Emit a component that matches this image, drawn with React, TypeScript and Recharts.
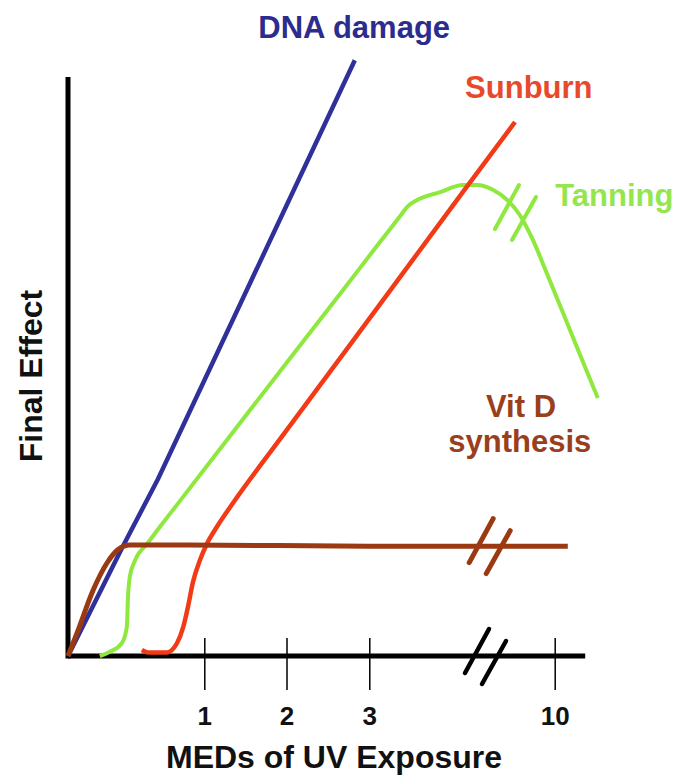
import React from 'react';
import { LineChart, Line, XAxis, YAxis, ReferenceLine, ReferenceDot, Label } from 'recharts';

const FONT = '"Liberation Sans", Arial, sans-serif';

// x: schematic dose position (0-100), y: relative effect (0-100)
const dnaDamage = [
  { x: 0, y: 0 }, { x: 9, y: 18 }, { x: 15, y: 29.5 }, { x: 29, y: 59.3 }, { x: 47.8, y: 99.3 },
];

const sunburn = [
  { x: 12.3, y: 1 }, { x: 13.3, y: 0.6 }, { x: 16.5, y: 0.6 }, { x: 18.2, y: 2.2 },
  { x: 19.2, y: 4.8 }, { x: 20, y: 8.2 }, { x: 20.8, y: 12.2 }, { x: 22, y: 16 },
  { x: 23.2, y: 18.8 }, { x: 24.8, y: 21.5 }, { x: 27.5, y: 25.5 }, { x: 35.3, y: 36.1 },
  { x: 46.5, y: 51.2 }, { x: 65.8, y: 77.3 }, { x: 74.5, y: 89 },
];

const tanning = [
  { x: 5.3, y: 0 }, { x: 7, y: 0.7 }, { x: 9, y: 2.2 }, { x: 9.8, y: 4.8 }, { x: 10, y: 9.8 },
  { x: 10.3, y: 13.2 }, { x: 11.2, y: 16 }, { x: 13.2, y: 18.7 }, { x: 15.3, y: 21.5 },
  { x: 18.7, y: 25.9 }, { x: 29.8, y: 40.3 }, { x: 45.3, y: 60.3 }, { x: 52, y: 69 },
  { x: 55.5, y: 73.5 }, { x: 56.5, y: 74.8 }, { x: 58.2, y: 76 }, { x: 62, y: 77.3 },
  { x: 65.8, y: 78.5 }, { x: 68.2, y: 78.5 }, { x: 70.8, y: 77.7 }, { x: 73.2, y: 76 },
  { x: 75.3, y: 73.5 }, { x: 77.5, y: 69.3 }, { x: 79.8, y: 63.8 }, { x: 82.5, y: 57.2 },
  { x: 85.3, y: 50.3 }, { x: 88.3, y: 43 },
];

const vitD = [
  { x: 0, y: 0 }, { x: 1.5, y: 3.8 }, { x: 4.2, y: 11 }, { x: 6.5, y: 15.5 }, { x: 8.3, y: 17.7 },
  { x: 10.3, y: 18.5 }, { x: 20, y: 18.5 }, { x: 50, y: 18.3 }, { x: 83.3, y: 18.3 },
];

const tickValues = [22.8, 36.5, 50.3, 81.2];
const tickLabels = ['1', '2', '3', '10'];

// where the axis / curves are broken ("//")
const breaks = [
  { x: 69.5, y: 0, color: '#000000', width: 4.5 },
  { x: 70.2, y: 18.4, color: '#9b3a12', width: 5 },
  { x: 74.5, y: 74, color: '#8ee83e', width: 4 },
];

const labels = [
  { x: 47.7, y: 103, text: 'DNA damage', color: '#2c2c8e', anchor: 'middle' },
  { x: 76.8, y: 93, text: 'Sunburn', color: '#e8492b', anchor: 'middle' },
  { x: 81.2, y: 75, text: 'Tanning', color: '#93e64e', anchor: 'start' },
  { x: 75.5, y: 39.8, text: 'Vit D', color: '#9a3e1c', anchor: 'middle' },
  { x: 75.3, y: 34, text: 'synthesis', color: '#9a3e1c', anchor: 'middle' },
];

function XTick(props: any) {
  const { x, y, payload } = props;
  const i = tickValues.indexOf(payload.value);
  return (
    <g>
      <line x1={x} x2={x} y1={y - 18} y2={y + 34} stroke="#000" strokeWidth={1.5} />
      <text x={x} y={y + 69} textAnchor="middle" fontFamily={FONT} fontWeight="bold" fontSize={26} fill="#111">
        {tickLabels[i]}
      </text>
    </g>
  );
}

const breakShape = (color: string, width: number) => (p: any) => (
  <g stroke={color} strokeWidth={width} strokeLinecap="round">
    <line x1={p.cx - 20} y1={p.cy + 17} x2={p.cx + 4} y2={p.cy - 27} />
    <line x1={p.cx - 3} y1={p.cy + 28} x2={p.cx + 21} y2={p.cy - 15} />
  </g>
);

const textShape = (text: string, color: string, anchor: string) => (p: any) => (
  <text x={p.cx} y={p.cy} textAnchor={anchor} fontFamily={FONT} fontWeight="bold" fontSize={31} fill={color}>
    {text}
  </text>
);

export default function App() {
  return (
    <div style={{ position: 'absolute', left: 0, top: 0, background: '#fff' }}>
      <LineChart width={673} height={777} margin={{ top: 56, right: 5, bottom: 0, left: 0 }}>
        <XAxis
          type="number"
          dataKey="x"
          domain={[0, 100]}
          ticks={tickValues}
          tick={<XTick />}
          tickSize={0}
          tickMargin={0}
          tickLine={false}
          axisLine={false}
          height={121}
          interval={0}
        >
          <Label
            content={(p: any) => (
              <text x={p.viewBox.x + 266} y={p.viewBox.y + 112} textAnchor="middle"
                fontFamily={FONT} fontWeight="bold" fontSize={32} fill="#111">
                MEDs of UV Exposure
              </text>
            )}
          />
        </XAxis>
        <YAxis type="number" domain={[0, 100]} width={68} tick={false} tickLine={false} axisLine={false}>
          <Label
            content={(p: any) => (
              <text x={42} y={p.viewBox.y + 320} transform={`rotate(-90 42 ${p.viewBox.y + 320})`}
                textAnchor="middle" fontFamily={FONT} fontWeight="bold" fontSize={32} fill="#111">
                Final Effect
              </text>
            )}
          />
        </YAxis>

        <ReferenceLine segment={[{ x: 0, y: 0 }, { x: 86.2, y: 0 }]} stroke="#000" strokeWidth={5} ifOverflow="visible" />
        <ReferenceLine segment={[{ x: 0, y: -0.4 }, { x: 0, y: 96.5 }]} stroke="#000" strokeWidth={5} ifOverflow="visible" />

        <Line data={dnaDamage} dataKey="y" type="linear" stroke="#30309a" strokeWidth={4.5}
          dot={false} activeDot={false} isAnimationActive={false} />
        <Line data={tanning} dataKey="y" type="monotone" stroke="#8ee83e" strokeWidth={4}
          dot={false} activeDot={false} isAnimationActive={false} />
        <Line data={sunburn} dataKey="y" type="monotone" stroke="#f23b16" strokeWidth={4.5}
          dot={false} activeDot={false} isAnimationActive={false} />
        <Line data={vitD} dataKey="y" type="monotone" stroke="#9b3a12" strokeWidth={5}
          dot={false} activeDot={false} isAnimationActive={false} />

        {breaks.map((b, i) => (
          <ReferenceDot key={'b' + i} x={b.x} y={b.y} r={0} ifOverflow="visible" shape={breakShape(b.color, b.width)} />
        ))}
        {labels.map((l, i) => (
          <ReferenceDot key={'l' + i} x={l.x} y={l.y} r={0} ifOverflow="visible" shape={textShape(l.text, l.color, l.anchor)} />
        ))}
      </LineChart>
    </div>
  );
}
